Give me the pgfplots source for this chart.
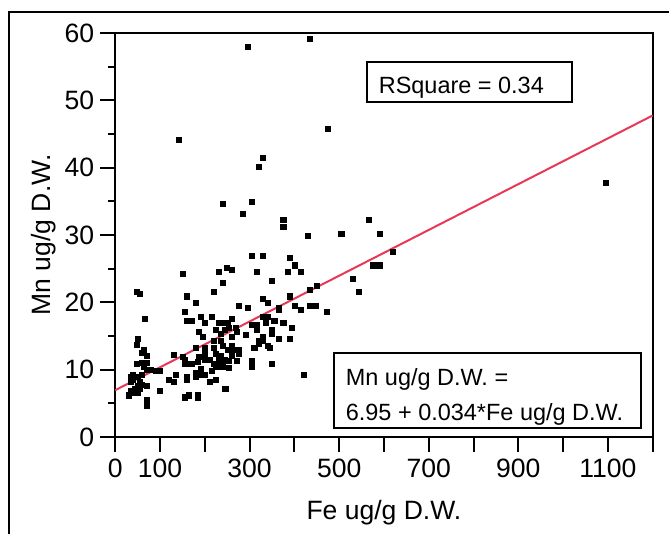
\documentclass[border=0pt]{standalone}
\usepackage{fontspec}
\setmainfont{Liberation Sans}
\usepackage{pgfplots}
\pgfplotsset{compat=1.18}
\definecolor{fitred}{RGB}{232,56,88}
\newcommand{\axfont}{\fontsize{19.9}{24}\selectfont}
\newcommand{\boxfont}{\fontsize{17.6}{21}\selectfont}
\begin{document}
\begin{tikzpicture}
\useasboundingbox (-86.4pt,-72.75pt) rectangle (415.35pt,327.75pt);
\draw[line width=1.5pt] (-79.35pt,-90pt) -- (-79.35pt,318.75pt) -- (440pt,318.75pt);
\begin{axis}[
  at={(0pt,0pt)}, anchor=south west,
  scale only axis, width=403.1pt, height=303pt,
  xmin=0, xmax=1200, ymin=0, ymax=60,
  axis line style={line width=1.5pt},
  every tick/.style={line width=1.5pt, black},
  tick align=outside, xtick pos=bottom, ytick pos=left,
  xtick={0,100,...,1200},
  xticklabels={0,100,,300,,500,,700,,900,,1100,},
  ytick={0,10,...,60},
  minor ytick={5,15,...,55},
  major tick length=11.25pt, minor tick length=5.25pt,
  /pgf/number format/assume math mode=true,
  tick label style={font=\axfont},
  xticklabel style={yshift=-2pt},
  yticklabel style={xshift=-1pt},
  label style={font=\axfont},
  xlabel={Fe ug/g D.W.},
  ylabel={Mn ug/g D.W.},
  xlabel style={at={(axis description cs:0.5,-0.2054)}, anchor=base},
  ylabel style={at={(axis description cs:-0.1204,0.5)}, anchor=base},
  clip=false,
]
\addplot[only marks, mark=square*, mark size=1.9pt, black] coordinates {
(295.2,57.9) (435.2,59.2) (141.0,44.2) (474.3,45.8) (330.5,41.5) (320.0,40.2)
(1095.2,37.8) (240.0,34.6) (304.8,34.9) (285.7,33.2) (375.2,32.2) (375.2,31.2)
(565.7,32.2) (504.8,30.2) (590.5,30.2) (430.5,29.9) (620.0,27.5) (305.7,26.9)
(330.5,26.9) (390.5,26.6) (400.0,25.5) (576.2,25.5) (590.5,25.5) (249.5,25.2)
(260.0,24.9) (230.5,24.5) (315.2,24.5) (385.7,24.5) (415.2,24.5) (150.5,24.2)
(529.5,23.5) (350.5,23.2) (240.0,22.9) (449.5,22.5) (435.2,21.9) (544.8,21.6)
(47.6,21.6) (55.2,21.3) (221.0,21.6) (160.0,20.9) (390.5,20.9) (330.5,20.5)
(180.0,19.9) (341.0,19.9) (276.2,19.5) (295.2,19.2) (400.0,19.5) (435.2,19.5)
(447.6,19.5) (365.7,19.2) (365.7,18.9) (415.2,18.9) (471.4,18.6) (155.2,18.6)
(65.7,17.6) (160.0,17.3) (170.5,17.3) (330.5,17.9) (341.0,17.9) (190.5,17.9)
(215.2,17.9) (260.0,17.6) (355.2,17.3) (375.2,16.9) (200.0,16.9) (230.5,16.9)
(240.0,16.9) (250.5,16.9) (305.7,16.6) (315.2,16.6) (335.2,16.9) (269.5,16.2)
(395.2,16.2) (224.8,15.9) (244.8,15.9) (254.3,16.2) (185.7,15.6) (270.5,15.6)
(350.5,15.9) (350.5,15.3) (290.5,15.2) (315.2,15.9) (235.2,15.3) (195.2,14.9)
(260.0,14.9) (330.5,14.9) (365.7,14.6) (390.5,14.6) (49.5,14.6) (47.6,13.7)
(321.0,14.3) (330.5,14.3) (220.0,14.3) (235.2,14.3) (240.0,13.6) (180.0,13.2)
(200.0,13.2) (321.0,13.9) (341.0,13.6) (310.5,13.2) (345.7,13.2) (260.0,13.6)
(220.0,13.2) (63.8,13.0) (60.0,12.5) (71.4,12.0) (250.5,13.0) (265.7,13.0)
(275.2,13.0) (200.0,12.3) (224.8,12.3) (235.2,12.0) (260.0,12.0) (275.2,12.3)
(130.5,12.2) (150.5,11.9) (155.2,11.5) (185.7,11.9) (200.0,11.5) (210.5,11.5)
(230.5,11.5) (244.8,11.5) (254.3,11.3) (270.5,11.3) (184.8,11.2) (305.7,11.3)
(305.7,10.5) (350.5,10.9) (69.5,11.0) (60.0,11.0) (47.6,10.9) (155.2,10.9)
(161.9,10.9) (170.5,10.9) (220.0,10.9) (240.0,10.5) (224.8,10.5) (235.2,10.5)
(254.3,10.3) (69.5,10.0) (80.0,10.0) (90.5,9.9) (100.0,9.9) (64.8,10.5)
(190.5,10.1) (190.5,9.2) (180.0,9.6) (180.0,8.9) (200.0,9.2) (215.2,9.9)
(420.0,9.2) (120.0,8.5) (130.5,8.2) (135.2,9.2) (160.0,8.9) (160.0,8.5)
(210.5,8.2) (224.8,8.5) (35.2,8.9) (40.0,8.5) (49.5,8.9) (60.0,9.2)
(55.2,8.2) (35.2,8.2) (60.0,7.8) (49.5,7.6) (69.5,7.6) (44.8,7.2)
(55.2,7.2) (34.3,6.9) (44.8,6.5) (50.5,6.5) (100.0,6.9) (30.5,6.2)
(71.4,5.5) (71.4,4.6) (155.2,5.9) (164.8,6.2) (184.8,6.2) (184.8,5.9)
(245.7,7.2) (40.0,9.3)
};
\addplot[fitred, line width=1.5pt] coordinates {(0,6.95) (1200,47.75)};
\draw[line width=1.5pt] (axis cs:562,49.75) rectangle (axis cs:1020,55.7);
\node[anchor=base west, inner sep=0pt, font=\boxfont] at (axis cs:588,51.0) {RSquare = 0.34};
\draw[line width=1.5pt, fill=white] (axis cs:487.6,1.34) rectangle (axis cs:1173.5,12.48);
\node[anchor=base west, inner sep=0pt, font=\boxfont] at (axis cs:514.4,7.72) {Mn ug/g D.W. =};
\node[anchor=base west, inner sep=0pt, font=\boxfont] at (axis cs:514.4,2.44) {6.95 + 0.034*Fe ug/g D.W.};
\end{axis}
\end{tikzpicture}
\end{document}
